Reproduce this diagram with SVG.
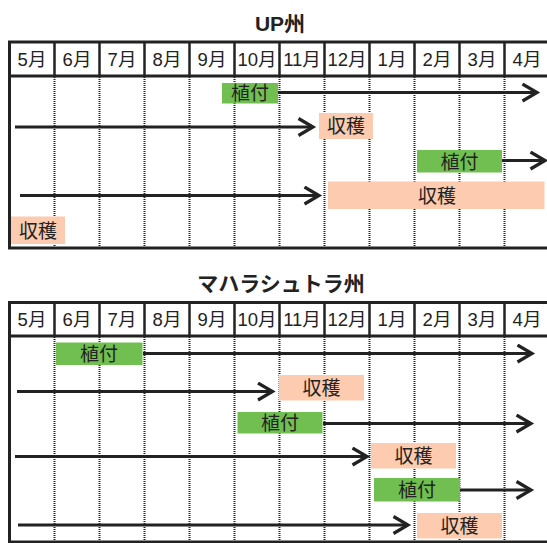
<svg xmlns="http://www.w3.org/2000/svg" width="547" height="543" viewBox="0 0 547 543">
<defs>
<style>
.frame{fill:none;stroke:#222;stroke-width:3}
.sep{stroke:#222;stroke-width:2.5}
.dot{stroke:#222;stroke-width:2;stroke-dasharray:1 1}
.hd{font-family:"Liberation Sans","Noto Sans CJK JP",sans-serif;font-size:18.5px;fill:#222;text-anchor:middle}
.ttl{font-family:"Liberation Sans","Noto Sans CJK JP",sans-serif;font-size:21px;font-weight:bold;fill:#222;text-anchor:middle}
.lb{font-family:"Noto Sans CJK JP",sans-serif;font-size:19px;fill:#222;text-anchor:middle}
.plant{fill:#70bf50}
.harv{fill:#fccbb0}
.arr{fill:none;stroke:#222;stroke-width:3.2;marker-end:url(#ah)}
</style>
<marker id="ah" markerUnits="userSpaceOnUse" markerWidth="20" markerHeight="22" refX="16" refY="10" orient="auto">
<path d="M1.5,1.5 L16,10 L1.5,18.5" fill="none" stroke="#222" stroke-width="3.2"/>
</marker>
</defs>

<g id="table-up">
<text class="ttl" x="280" y="31">UP州</text>
<path class="frame" d="M547,42 H9.5 V248 H547 M9.5,76 H547"/>
<g class="sep">
<line x1="54.5" y1="42" x2="54.5" y2="76"/><line x1="99.5" y1="42" x2="99.5" y2="76"/><line x1="144.5" y1="42" x2="144.5" y2="76"/><line x1="189.5" y1="42" x2="189.5" y2="76"/><line x1="234.5" y1="42" x2="234.5" y2="76"/><line x1="279.5" y1="42" x2="279.5" y2="76"/><line x1="324.5" y1="42" x2="324.5" y2="76"/><line x1="369.5" y1="42" x2="369.5" y2="76"/><line x1="414.5" y1="42" x2="414.5" y2="76"/><line x1="459.5" y1="42" x2="459.5" y2="76"/><line x1="504.5" y1="42" x2="504.5" y2="76"/>
</g>
<g class="dot">
<line x1="54.5" y1="77" x2="54.5" y2="247"/><line x1="99.5" y1="77" x2="99.5" y2="247"/><line x1="144.5" y1="77" x2="144.5" y2="247"/><line x1="189.5" y1="77" x2="189.5" y2="247"/><line x1="234.5" y1="77" x2="234.5" y2="247"/><line x1="279.5" y1="77" x2="279.5" y2="247"/><line x1="324.5" y1="77" x2="324.5" y2="247"/><line x1="369.5" y1="77" x2="369.5" y2="247"/><line x1="414.5" y1="77" x2="414.5" y2="247"/><line x1="459.5" y1="77" x2="459.5" y2="247"/><line x1="504.5" y1="77" x2="504.5" y2="247"/>
</g>
<g>
<text class="hd" x="32" y="66">5月</text><text class="hd" x="77" y="66">6月</text><text class="hd" x="122" y="66">7月</text><text class="hd" x="167" y="66">8月</text><text class="hd" x="212" y="66">9月</text><text class="hd" x="257" y="66">10月</text><text class="hd" x="302" y="66">11月</text><text class="hd" x="347" y="66">12月</text><text class="hd" x="392" y="66">1月</text><text class="hd" x="437" y="66">2月</text><text class="hd" x="482" y="66">3月</text><text class="hd" x="527" y="66">4月</text>
</g>
</g>

<g id="table-mh">
<text class="ttl" x="281" y="291">マハラシュトラ州</text>
<path class="frame" d="M547,302.5 H9.5 V542 H547 M9.5,336 H547"/>
<g class="sep">
<line x1="54.5" y1="302" x2="54.5" y2="336"/><line x1="99.5" y1="302" x2="99.5" y2="336"/><line x1="144.5" y1="302" x2="144.5" y2="336"/><line x1="189.5" y1="302" x2="189.5" y2="336"/><line x1="234.5" y1="302" x2="234.5" y2="336"/><line x1="279.5" y1="302" x2="279.5" y2="336"/><line x1="324.5" y1="302" x2="324.5" y2="336"/><line x1="369.5" y1="302" x2="369.5" y2="336"/><line x1="414.5" y1="302" x2="414.5" y2="336"/><line x1="459.5" y1="302" x2="459.5" y2="336"/><line x1="504.5" y1="302" x2="504.5" y2="336"/>
</g>
<g class="dot">
<line x1="54.5" y1="337" x2="54.5" y2="541"/><line x1="99.5" y1="337" x2="99.5" y2="541"/><line x1="144.5" y1="337" x2="144.5" y2="541"/><line x1="189.5" y1="337" x2="189.5" y2="541"/><line x1="234.5" y1="337" x2="234.5" y2="541"/><line x1="279.5" y1="337" x2="279.5" y2="541"/><line x1="324.5" y1="337" x2="324.5" y2="541"/><line x1="369.5" y1="337" x2="369.5" y2="541"/><line x1="414.5" y1="337" x2="414.5" y2="541"/><line x1="459.5" y1="337" x2="459.5" y2="541"/><line x1="504.5" y1="337" x2="504.5" y2="541"/>
</g>
<g>
<text class="hd" x="32" y="326">5月</text><text class="hd" x="77" y="326">6月</text><text class="hd" x="122" y="326">7月</text><text class="hd" x="167" y="326">8月</text><text class="hd" x="212" y="326">9月</text><text class="hd" x="257" y="326">10月</text><text class="hd" x="302" y="326">11月</text><text class="hd" x="347" y="326">12月</text><text class="hd" x="392" y="326">1月</text><text class="hd" x="437" y="326">2月</text><text class="hd" x="482" y="326">3月</text><text class="hd" x="527" y="326">4月</text>
</g>
</g>

<g id="connectors">
<line class="arr" x1="278" y1="92.5" x2="537" y2="92.5"/>
<line class="arr" x1="15" y1="127" x2="313" y2="127"/>
<line class="arr" x1="502" y1="160.5" x2="545" y2="160.5"/>
<line class="arr" x1="20" y1="195.5" x2="319" y2="195.5"/>
<line class="arr" x1="143" y1="353.5" x2="532" y2="353.5"/>
<line class="arr" x1="17" y1="391.5" x2="272.5" y2="391.5"/>
<line class="arr" x1="323" y1="423.5" x2="531" y2="423.5"/>
<line class="arr" x1="15" y1="456.5" x2="367" y2="456.5"/>
<line class="arr" x1="460" y1="490" x2="531" y2="490"/>
<line class="arr" x1="18" y1="525" x2="408" y2="525"/>
</g>

<g id="up-plant-1"><rect class="plant" x="222" y="83" width="56" height="20.5"/><text class="lb" x="250" y="100">植付</text></g>
<g id="up-harvest-1"><rect class="harv" x="319" y="113" width="54" height="26"/><text class="lb" x="346" y="133">収穫</text></g>
<g id="up-plant-2"><rect class="plant" x="417" y="150" width="85" height="22.5"/><text class="lb" x="459.5" y="168.5">植付</text></g>
<g id="up-harvest-2"><rect class="harv" x="328" y="181.5" width="216.5" height="27.5"/><text class="lb" x="437" y="202.5">収穫</text></g>
<g id="up-harvest-3"><rect class="harv" x="11" y="216.5" width="54" height="27.5"/><text class="lb" x="38" y="237.5">収穫</text></g>

<g id="mh-plant-1"><rect class="plant" x="56" y="342.5" width="86.5" height="22.5"/><text class="lb" x="99" y="361">植付</text></g>
<g id="mh-harvest-1"><rect class="harv" x="279" y="375" width="85" height="25.5"/><text class="lb" x="321.5" y="395">収穫</text></g>
<g id="mh-plant-2"><rect class="plant" x="237.5" y="412" width="85" height="21.5"/><text class="lb" x="280" y="429.5">植付</text></g>
<g id="mh-harvest-2"><rect class="harv" x="371" y="443" width="85" height="25.5"/><text class="lb" x="413.5" y="463">収穫</text></g>
<g id="mh-plant-3"><rect class="plant" x="374" y="478" width="86" height="23.5"/><text class="lb" x="417" y="497">植付</text></g>
<g id="mh-harvest-3"><rect class="harv" x="417" y="513" width="85" height="25.5"/><text class="lb" x="459.5" y="533">収穫</text></g>
</svg>
